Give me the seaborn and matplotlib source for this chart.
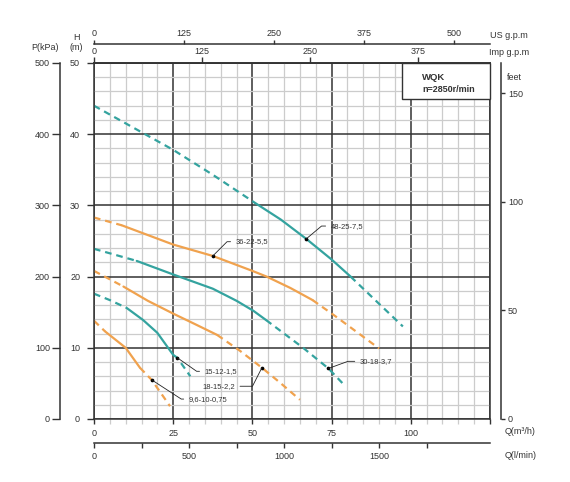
import matplotlib
matplotlib.use("Agg")
import matplotlib.pyplot as plt
import matplotlib.ticker as mticker
from matplotlib.patches import Rectangle
import seaborn as sns

# pump curves: Q in m3/h, H in m
names = ['48-25-7,5', '36-22-5,5', '30-18-3,7', '18-15-2,2', '15-12-1,5', '9,6-10-0,75']

q_48 = [0, 12.5, 25, 37.5, 51, 59, 67, 75, 81, 89, 97.5]
h_48 = [44, 40.9, 37.8, 34.3, 30.3, 28, 25.3, 22.4, 20, 16.6, 13]

q_36 = [0, 8.8, 25, 37.5, 50, 54.5, 62, 69, 76, 83, 90]
h_36 = [28.3, 27.2, 24.5, 22.9, 20.8, 20, 18.4, 16.7, 14.5, 12.2, 9.9]

q_30 = [0, 13.5, 25, 37.5, 45, 50.3, 54.3, 60, 66, 74, 78.5]
h_30 = [23.9, 22.2, 20.3, 18.3, 16.6, 15.2, 13.9, 12, 10, 7.1, 5]

q_18 = [0, 9.3, 17, 25, 32, 38.9, 46, 53, 59, 65]
h_18 = [20.8, 18.6, 16.6, 14.8, 13.3, 11.8, 9.6, 7.2, 5, 2.7]

q_15 = [0, 5, 10.3, 15.5, 20, 25, 26.3, 30.4]
h_15 = [17.6, 16.7, 15.6, 13.9, 12.1, 9.0, 8.6, 6.0]

q_96 = [0, 3.5, 10, 14.5, 18.2, 24]
h_96 = [13.8, 12.3, 10, 7.2, 5.5, 1.8]

curves_q = [q_48, q_36, q_30, q_18, q_15, q_96]
curves_h = [h_48, h_36, h_30, h_18, h_15, h_96]
# first / last point of the solid (operating) part
solid_part = [(4, 8), (1, 7), (1, 6), (1, 5), (2, 5), (1, 3)]
# point carrying the label dot
label_point = [6, 3, 9, 7, 6, 4]

us_gpm_ticks = [0, 125, 250, 375, 500]
imp_gpm_ticks = [0, 125, 250, 375]
lmin_ticks = [0, 250, 500, 750, 1000, 1250, 1500, 1750]
kpa_ticks = [0, 100, 200, 300, 400, 500]
feet_ticks = [0, 50, 100, 150]

TEAL = '#34a39f'
ORANGE = '#f0a24e'
colors = [TEAL, ORANGE, TEAL, ORANGE, TEAL, ORANGE]
GRID_LIGHT = '#cccccc'
DARK = '#333333'
FS = 6.5

sns.set_theme(style="white")
plt.rcParams['font.family'] = ['Liberation Sans', 'DejaVu Sans']

W, H = 570, 482
fig = plt.figure(figsize=(5.7, 4.82), dpi=100)
ax = fig.add_axes([94 / W, 1 - 419 / H, 396 / W, 356 / H])


def px(x, y):
    return x / W, 1 - y / H


# curves
dash = (0, (3, 2.2))
for q, h, (i0, i1), c in zip(curves_q, curves_h, solid_part, colors):
    sns.lineplot(x=q[:i0 + 1], y=h[:i0 + 1], ax=ax, color=c, lw=1.6, ls=dash, sort=False)
    sns.lineplot(x=q[i0:i1 + 1], y=h[i0:i1 + 1], ax=ax, color=c, lw=1.6, sort=False)
    if i1 < len(q) - 1:
        sns.lineplot(x=q[i1:], y=h[i1:], ax=ax, color=c, lw=1.6, ls=dash, sort=False)

ax.set_xlim(0, 125)
ax.set_ylim(0, 50)
ax.set_xlabel('')
ax.set_ylabel('')
ax.set_xticks(range(0, 126, 25))
ax.set_xticks(range(0, 126, 5), minor=True)
ax.set_yticks(range(0, 51, 10))
ax.set_yticks(range(0, 51, 2), minor=True)
ax.xaxis.set_major_formatter(mticker.FuncFormatter(lambda v, p: '' if v > 100 else f'{v:.0f}'))
ax.grid(which='minor', color=GRID_LIGHT, lw=0.9)
ax.grid(which='major', color=DARK, lw=1.1)
ax.set_axisbelow(True)
ax.tick_params(axis='y', which='major', direction='out', length=5, width=1, color=DARK,
               pad=5, labelsize=FS, labelcolor=DARK, left=True)
ax.tick_params(axis='y', which='minor', length=0)
ax.tick_params(axis='x', which='major', direction='out', length=3.5, width=1, color=DARK,
               pad=4, labelsize=FS, labelcolor=DARK, bottom=True)
ax.tick_params(axis='x', which='minor', direction='out', length=3.5, width=0.9, color=GRID_LIGHT, bottom=True)
for s in ax.spines.values():
    s.set_color(DARK)
    s.set_linewidth(1.1)

# label dots and leaders
dots_q = [q[i] for q, i in zip(curves_q, label_point)]
dots_h = [h[i] for h, i in zip(curves_h, label_point)]
sns.scatterplot(x=dots_q, y=dots_h, ax=ax, color='black', s=7, zorder=5, linewidth=0)

text_pos = [(74.8, 27.1), (44.8, 24.9), (84, 8.1), (34.1, 4.6), (35, 6.7), (30, 2.8)]
angles = [40, 45, 20, 63, -35, -33]
for name, xq, yh, tp, a in zip(names, dots_q, dots_h, text_pos, angles):
    ax.annotate(name, xy=(xq, yh), xytext=tp, fontsize=5.5, color=DARK, ha='left', va='center',
                arrowprops=dict(arrowstyle='-', color='#222222', lw=0.6, shrinkA=1.5, shrinkB=0,
                                connectionstyle=f'angle,angleA=0,angleB={a},rad=0'),
                zorder=6)

# model box
ax.add_patch(Rectangle((308 / 396, 320 / 356), 88 / 396, 36 / 356, transform=ax.transAxes,
                       facecolor='white', edgecolor=DARK, lw=1, zorder=4, clip_on=False))
ax.text(328 / 396, 342 / 356, 'WQK', transform=ax.transAxes, fontsize=6.8, fontweight='bold',
        color=DARK, va='center', ha='left', zorder=5)
ax.text(328 / 396, 330 / 356, 'n=2850r/min', transform=ax.transAxes, fontsize=6.5, fontweight='bold',
        color=DARK, va='center', ha='left', zorder=5)

# pressure axis (kPa) on the far left
axp = ax.twinx()
axp.yaxis.tick_left()
axp.spines['left'].set_position(('axes', -34 / 396))
for k in ['right', 'top', 'bottom']:
    axp.spines[k].set_visible(False)
axp.spines['left'].set_color(DARK)
axp.spines['left'].set_linewidth(1.1)
axp.set_ylim(0, 500)
axp.set_yticks(kpa_ticks)
axp.tick_params(axis='y', direction='out', length=5.8, width=1, color=DARK, pad=1.5,
                labelsize=FS, labelcolor=DARK)

# feet axis on the right
axf = ax.twinx()
axf.spines['right'].set_position(('axes', 1 + 11 / 396))
for k in ['left', 'top', 'bottom']:
    axf.spines[k].set_visible(False)
axf.spines['right'].set_color(DARK)
axf.spines['right'].set_linewidth(1.1)
axf.set_ylim(0, 50 / 0.3048)
axf.set_yticks(feet_ticks)
axf.tick_params(axis='y', direction='out', length=3, width=1, color=DARK, pad=2,
                labelsize=FS, labelcolor=DARK)

# flow axes: Imp gpm, US gpm on top, l/min below
imp = ax.secondary_xaxis('top', functions=(lambda q: q / 0.272765, lambda g: g * 0.272765))
imp.set_xticks(imp_gpm_ticks)
imp.tick_params(direction='out', length=4.3, width=1, color=DARK, pad=1, labelsize=FS, labelcolor=DARK)
imp.spines['top'].set_color(DARK)

us = ax.secondary_xaxis(1 + 19 / 356, functions=(lambda q: q / 0.227125, lambda g: g * 0.227125))
us.set_xticks(us_gpm_ticks)
us.tick_params(direction='out', length=3, width=1, color=DARK, pad=1, labelsize=FS, labelcolor=DARK)
us.spines['top'].set_color(DARK)
us.spines['top'].set_linewidth(1.1)

lmin = ax.secondary_xaxis(-24 / 356, functions=(lambda q: q * 1000 / 60, lambda l: l * 60 / 1000))
lmin.set_xticks(lmin_ticks)
lmin.xaxis.set_major_formatter(mticker.FuncFormatter(lambda v, p: f'{v:.0f}' if v % 500 == 0 else ''))
lmin.tick_params(direction='out', length=3.6, width=1, color=DARK, pad=3, labelsize=FS, labelcolor=DARK)
lmin.spines['bottom'].set_color(DARK)
lmin.spines['bottom'].set_linewidth(1.1)

# axis titles
fig.text(*px(45, 48), 'P(kPa)', fontsize=FS, color=DARK, ha='center', va='center')
fig.text(*px(76, 37), 'H', fontsize=FS, color=DARK, ha='center', va='center')
fig.text(*px(76, 48), '(m)', fontsize=FS, color=DARK, ha='center', va='center')
fig.text(*px(490, 35), 'US g.p.m', fontsize=FS, color=DARK, ha='left', va='center')
fig.text(*px(489, 52), 'Imp g.p.m', fontsize=FS, color=DARK, ha='left', va='center')
fig.text(*px(507, 77), 'feet', fontsize=FS, color=DARK, ha='left', va='center')
fig.text(*px(505, 432), 'Q(m³/h)', fontsize=FS, color=DARK, ha='left', va='center')
fig.text(*px(505, 455), 'Q(l/min)', fontsize=FS, color=DARK, ha='left', va='center')

fig.savefig('out.png', dpi=100, facecolor='white')
